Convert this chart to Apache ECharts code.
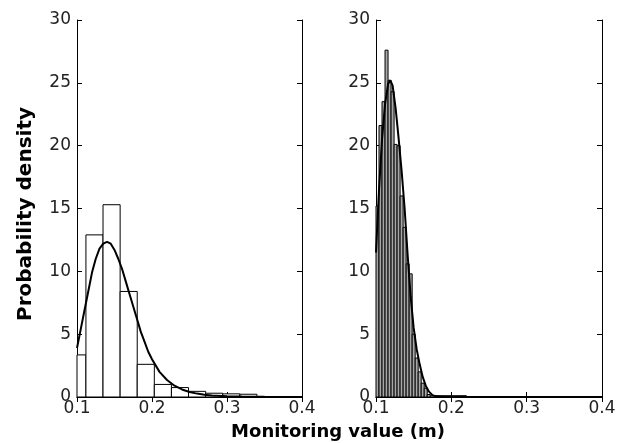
<!DOCTYPE html>
<html lang="en">
<head>
    <meta charset="UTF-8">
    <title>Probability density</title>
    <script src="https://cdn.jsdelivr.net/npm/echarts@6/dist/echarts.min.js"></script>
    <style>
        html, body { margin: 0; padding: 0; background: #fff; }
    </style>
</head>
<body>
<div id="main" style="width: 624px;height: 443px;"></div>
<script type="text/javascript">
    // 左图直方图（组距约0.0228）
    var leftBinEdges = [0.0891, 0.1119, 0.1347, 0.1575, 0.1803, 0.2031, 0.2259, 0.2487, 0.2715, 0.2943, 0.3171, 0.3399, 0.3627, 0.3855, 0.4083];
    var leftBinValues = [3.35, 12.9, 15.3, 8.4, 2.6, 1.0, 0.75, 0.45, 0.3, 0.25, 0.22, 0.03, 0.02, 0.02];
    // 左图拟合曲线
    var leftCurveX = [0.100, 0.105, 0.110, 0.115, 0.120, 0.125, 0.130, 0.135, 0.140, 0.145, 0.150, 0.155, 0.160, 0.165, 0.170, 0.175, 0.180, 0.185, 0.190, 0.195, 0.200, 0.210, 0.220, 0.230, 0.240, 0.250, 0.260, 0.270, 0.280, 0.300, 0.320, 0.350, 0.400];
    var leftCurveY = [3.9, 5.4, 6.9, 8.4, 9.9, 11.0, 11.8, 12.2, 12.35, 12.2, 11.7, 11.0, 10.2, 9.2, 8.2, 7.2, 6.2, 5.2, 4.4, 3.6, 3.0, 2.0, 1.35, 0.9, 0.6, 0.4, 0.27, 0.18, 0.12, 0.06, 0.03, 0.015, 0.0];

    // 右图直方图（组距0.004）
    var rightBinEdges = [0.100, 0.104, 0.108, 0.112, 0.116, 0.120, 0.124, 0.128, 0.132, 0.136, 0.140, 0.144, 0.148, 0.152, 0.156, 0.160, 0.164, 0.168, 0.172, 0.180, 0.190, 0.200, 0.210, 0.220];
    var rightBinValues = [15.2, 21.6, 23.5, 27.6, 25.2, 24.3, 20.1, 20.0, 16.0, 13.5, 10.6, 9.8, 5.0, 3.1, 2.0, 1.1, 0.7, 0.2, 0.1, 0.1, 0.1, 0.1, 0.1];
    // 右图拟合曲线
    var rightCurveX = [0.100, 0.104, 0.108, 0.112, 0.116, 0.119, 0.122, 0.126, 0.130, 0.134, 0.138, 0.142, 0.146, 0.150, 0.154, 0.158, 0.162, 0.166, 0.170, 0.175, 0.180, 0.190, 0.220, 0.400];
    var rightCurveY = [11.5, 16.5, 20.5, 23.3, 24.9, 25.2, 24.8, 23.0, 20.6, 18.0, 15.0, 11.3, 8.0, 5.5, 3.8, 2.6, 1.6, 0.9, 0.45, 0.15, 0.05, 0.02, 0.01, 0.0];

    var xTicks = ['0.1', '0.2', '0.3', '0.4'];
    var yTicks = ['0', '5', '10', '15', '20', '25', '30'];

    function binData(edges, values) {
        var d = [];
        for (let i = 0; i < values.length; i++) {
            d.push([edges[i], edges[i + 1], values[i]]);
        }
        return d;
    }

    function pairs(xs, ys) {
        return xs.map(function (x, i) { return [x, ys[i]]; });
    }

    // 画直方图的矩形，超出坐标区的部分裁掉
    function makeRender(fill) {
        return function (params, api) {
            var p0 = api.coord([api.value(0), api.value(2)]);
            var p1 = api.coord([api.value(1), 0]);
            var rect = echarts.graphic.clipRectByRect({
                x: p0[0], y: p0[1], width: p1[0] - p0[0], height: p1[1] - p0[1]
            }, {
                x: params.coordSys.x, y: params.coordSys.y,
                width: params.coordSys.width, height: params.coordSys.height
            });
            if (!rect) return;
            return {
                type: 'rect',
                shape: rect,
                style: { fill: fill, stroke: '#000', lineWidth: 1 }
            };
        };
    }

    var labelFont = { color: '#222', fontSize: 17, fontFamily: '"DejaVu Sans", sans-serif' };

    function bottomAxis(gi) {
        return {
            type: 'value', gridIndex: gi, min: 0.1, max: 0.4, interval: 0.1,
            axisLine: { lineStyle: { color: '#000', width: 1 } },
            axisTick: { inside: true, length: 5, lineStyle: { color: '#000' } },
            axisLabel: Object.assign({ margin: 3, formatter: function (v) { return xTicks[Math.round((v - 0.1) * 10)]; } }, labelFont),
            splitLine: { show: false }
        };
    }
    function topAxis(gi) {
        return {
            type: 'value', gridIndex: gi, position: 'top', min: 0.1, max: 0.4, interval: 0.1,
            axisLine: { lineStyle: { color: '#000', width: 1 } },
            axisTick: { inside: true, length: 5, lineStyle: { color: '#000' } },
            axisLabel: { show: false },
            splitLine: { show: false }
        };
    }
    function leftAxis(gi) {
        return {
            type: 'value', gridIndex: gi, min: 0, max: 30, interval: 5,
            axisLine: { show: true, lineStyle: { color: '#000', width: 1 } },
            axisTick: { show: true, inside: true, length: 5, lineStyle: { color: '#000' } },
            axisLabel: Object.assign({ margin: 6, formatter: function (v) { return yTicks[v / 5]; } }, labelFont),
            splitLine: { show: false }
        };
    }
    function rightAxis(gi) {
        return {
            type: 'value', gridIndex: gi, position: 'right', min: 0, max: 30, interval: 5,
            axisLine: { show: true, lineStyle: { color: '#000', width: 1 } },
            axisTick: { show: true, inside: true, length: 5, lineStyle: { color: '#000' } },
            axisLabel: { show: false },
            splitLine: { show: false }
        };
    }

    var myEcharts = echarts.init(document.getElementById('main'));
    var option = {
        backgroundColor: '#fff',
        animation: false,
        grid: [
            { left: 77, right: 322, top: 20, bottom: 46 },
            { left: 376, right: 22, top: 20, bottom: 46 }
        ],
        xAxis: [bottomAxis(0), topAxis(0), bottomAxis(1), topAxis(1)],
        yAxis: [leftAxis(0), rightAxis(0), leftAxis(1), rightAxis(1)],
        graphic: [
            {
                type: 'text', x: 26, y: 214, rotation: Math.PI / 2,
                style: {
                    text: 'Probability density', fill: '#000',
                    font: 'bold 20px "DejaVu Sans", sans-serif',
                    textAlign: 'center', textVerticalAlign: 'middle'
                }
            },
            {
                type: 'text', x: 338, y: 432,
                style: {
                    text: 'Monitoring value (m)', fill: '#000',
                    font: 'bold 18px "DejaVu Sans", sans-serif',
                    textAlign: 'center', textVerticalAlign: 'middle'
                }
            }
        ],
        series: [
            {
                type: 'custom', xAxisIndex: 0, yAxisIndex: 0,
                renderItem: makeRender('#fff'),
                encode: { x: [0, 1], y: 2 },
                data: binData(leftBinEdges, leftBinValues)
            },
            {
                type: 'line', xAxisIndex: 0, yAxisIndex: 0,
                showSymbol: false, smooth: false,
                lineStyle: { color: '#000', width: 2 },
                data: pairs(leftCurveX, leftCurveY)
            },
            {
                type: 'custom', xAxisIndex: 2, yAxisIndex: 2,
                renderItem: makeRender('#a8a8a8'),
                encode: { x: [0, 1], y: 2 },
                data: binData(rightBinEdges, rightBinValues)
            },
            {
                type: 'line', xAxisIndex: 2, yAxisIndex: 2,
                showSymbol: false, smooth: false,
                lineStyle: { color: '#000', width: 2 },
                data: pairs(rightCurveX, rightCurveY)
            }
        ]
    };
    myEcharts.setOption(option);
</script>
</body>
</html>
